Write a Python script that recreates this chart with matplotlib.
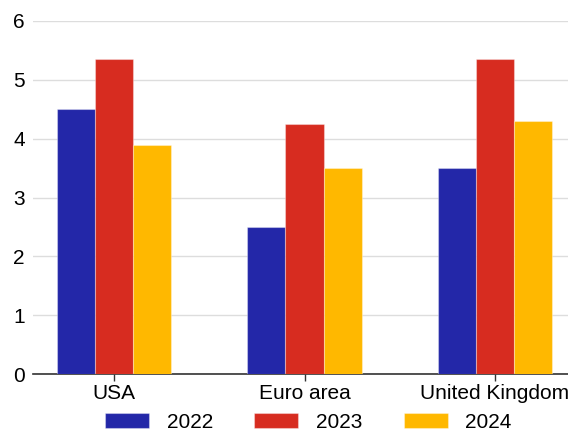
import matplotlib
matplotlib.use("Agg")
import matplotlib.pyplot as plt
import numpy as np

plt.rcParams["font.family"] = ["Liberation Sans", "DejaVu Sans"]

categories = ["USA", "Euro area", "United Kingdom"]
years = ["2022", "2023", "2024"]
values_2022 = [4.5, 2.5, 3.5]
values_2023 = [5.35, 4.25, 5.35]
values_2024 = [3.9, 3.5, 4.3]
colors = ["#2327A8", "#D72C20", "#FFB800"]

fig = plt.figure(figsize=(5.68, 4.33), dpi=100)
ax = fig.add_axes([33 / 568, 59 / 433, 1 - 33 / 568, (374 - 21) / 433])

x = np.arange(len(categories))
width = 0.2
for i, (vals, lab, c) in enumerate(zip([values_2022, values_2023, values_2024], years, colors)):
    ax.bar(x + (i - 1) * width, vals, width, color=c, label=lab,
           edgecolor=(1, 1, 1, 0.35), linewidth=0.8, zorder=3)

ax.set_xlim(-0.425, 2.383)
ax.set_ylim(0, 6)
ax.set_yticks(range(0, 7))
ax.grid(axis="y", color="#dddddd", linewidth=1, zorder=0)
ax.set_axisbelow(True)

# the UK label runs off the right edge in the source chart too
ax.set_xticks(x)
ax.set_xticklabels(categories)
for side in ("left", "right", "top"):
    ax.spines[side].set_visible(False)
ax.spines["bottom"].set_color("#333333")
ax.spines["bottom"].set_linewidth(1.2)
ax.tick_params(axis="y", length=0, pad=6, labelsize=15)
ax.tick_params(axis="x", length=5, color="#333333", width=1, pad=2, labelsize=15)

fig.legend(loc="lower center", bbox_to_anchor=(0.543, 0.002), ncol=3, frameon=False,
           fontsize=15, handlelength=2.1, handleheight=0.75, handletextpad=0.85,
           columnspacing=2.0, borderaxespad=0, borderpad=0)

fig.savefig("out.png", dpi=100)
